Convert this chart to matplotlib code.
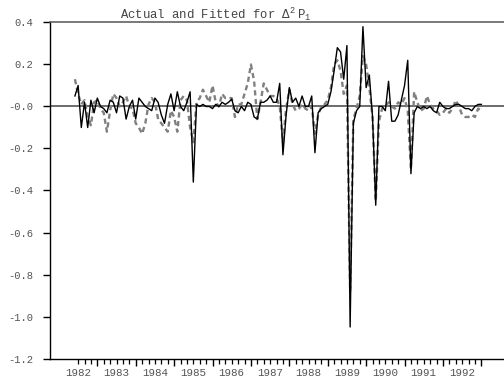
import numpy as np
import pandas as pd
import matplotlib
matplotlib.use("Agg")
import matplotlib.pyplot as plt
import matplotlib.transforms as mtransforms

# ---- data (monthly, Jun 1982 .. Jan 1993) ----
start_year = 1982
start_month = 6
actual = [
    0.05, 0.10, -0.10, 0.02, -0.10, 0.03, -0.03, 0.04, 0.00, -0.01,
    -0.03, 0.03, 0.02, -0.03, 0.05, 0.04, -0.06, 0.00, 0.03, -0.06,
    0.04, 0.02, 0.00, -0.01, -0.02, 0.04, 0.02, -0.04, -0.08, 0.01,
    0.06, -0.02, 0.07, 0.00, -0.02, 0.02, 0.07, -0.36, 0.01, 0.00,
    0.01, 0.00, 0.00, -0.01, 0.01, 0.00, 0.02, 0.01, 0.02, 0.035,
    -0.02, -0.03, 0.00, -0.02, 0.02, 0.01, -0.05, -0.06, 0.02, 0.02,
    0.03, 0.05, 0.02, 0.02, 0.11, -0.23, -0.04, 0.09, 0.02, 0.04,
    0.00, 0.05, 0.00, 0.00, 0.05, -0.22, -0.03, -0.01, 0.00, 0.01,
    0.07, 0.17, 0.28, 0.26, 0.13, 0.29, -1.05, -0.08, -0.02, 0.00,
    0.38, 0.09, 0.15, -0.05, -0.47, 0.00, 0.00, -0.02, 0.12, -0.07,
    -0.07, -0.04, 0.03, 0.10, 0.22, -0.32, -0.03, 0.00, -0.01, 0.00,
    -0.01, 0.00, -0.02, -0.03, 0.02, 0.00, -0.01, -0.01, 0.00, 0.01,
    0.01, 0.00, -0.01, -0.01, -0.02, 0.00, 0.01, 0.01,
]
fitted = [
    0.13, 0.06, 0.01, 0.03, -0.05, -0.09, 0.02, 0.03, -0.01, -0.03,
    -0.12, -0.02, 0.06, 0.04, 0.00, 0.02, 0.05, 0.00, -0.01, -0.08,
    -0.10, -0.13, -0.08, 0.01, 0.04, 0.02, -0.06, -0.08, -0.10, -0.12,
    -0.02, -0.05, -0.12, 0.03, 0.05, 0.03, -0.10, -0.17, 0.02, 0.04,
    0.08, 0.05, 0.02, 0.10, 0.02, 0.00, 0.06, 0.04, 0.04, 0.04,
    -0.05, 0.01, 0.01, 0.06, 0.11, 0.20, 0.12, -0.06, 0.02, 0.11,
    0.08, 0.05, 0.05, 0.04, 0.00, -0.17, -0.01, 0.08, 0.01, -0.02,
    -0.01, 0.01, -0.01, -0.02, 0.00, -0.13, -0.04, 0.00, 0.01, 0.03,
    0.09, 0.20, 0.22, 0.17, 0.06, 0.10, -0.88, -0.06, -0.01, 0.05,
    0.24, 0.20, 0.09, -0.05, -0.45, -0.07, -0.01, 0.00, 0.02, 0.00,
    -0.01, 0.02, 0.01, 0.04, -0.02, -0.30, 0.07, 0.02, -0.02, -0.01,
    0.05, 0.01, -0.01, -0.02, -0.04, -0.03, -0.01, -0.03, -0.01, 0.03,
    0.00, -0.04, -0.05, -0.05, -0.04, -0.05, -0.01, -0.02,
]
years = list(range(1982, 1993))
yticks = [0.4, 0.2, 0.0, -0.2, -0.4, -0.6, -0.8, -1.0, -1.2]
ytick_labels = ["0.4", "0.2", "-0.0", "-0.2", "-0.4", "-0.6", "-0.8", "-1.0", "-1.2"]

n = len(actual)
dates = pd.date_range(f"{start_year}-{start_month:02d}-01", periods=n, freq="MS")
t = dates.year + (dates.month - 1) / 12.0

plt.rcParams["mathtext.fontset"] = "custom"
plt.rcParams["mathtext.rm"] = "Liberation Mono"
plt.rcParams["mathtext.it"] = "Liberation Mono"
MONO = "Liberation Mono"
TXT = "#555555"

fig = plt.figure(figsize=(5.04, 3.81), dpi=100)
ax = fig.add_axes([0.0992, 0.059, 0.9008, 0.882])

ax.axhline(0, color="#444444", lw=1.1, zorder=1)
ax.plot(t, fitted, color="#808080", lw=1.7, ls=(0, (2.2, 1.5)), zorder=2)
ax.plot(t, actual, color="black", lw=1.0, zorder=3)

ax.set_xlim(1981.768, 1993.59)
ax.set_ylim(-1.2, 0.4)

ax.spines["right"].set_visible(False)
ax.spines["top"].set_color("#555555")
ax.spines["top"].set_linewidth(1.1)
ax.spines["left"].set_linewidth(1.0)
ax.spines["bottom"].set_linewidth(1.0)

ax.set_yticks(yticks)
ax.set_yticklabels(ytick_labels, fontfamily=MONO, fontsize=7.6, color=TXT)
ax.tick_params(axis="y", direction="out", length=5, width=1.0, pad=7)

major = [y + 1 for y in years]
minor = [y + k / 6 for y in years for k in range(1, 6) if y + k / 6 > 1982.4]
ax.set_xticks(major)
ax.set_xticklabels([])
ax.set_xticks(minor, minor=True)
ax.tick_params(axis="x", which="major", direction="out", length=5, width=1.0)
ax.tick_params(axis="x", which="minor", direction="out", length=3.5, width=0.9)

trans = mtransforms.blended_transform_factory(ax.transData, ax.transAxes)
for y in years:
    ax.text(y + 0.5, -0.028, str(y), transform=trans, ha="center", va="top",
            fontfamily=MONO, fontsize=7.8, color=TXT)

fig.text(0.238, 0.963, r"Actual and Fitted for $\Delta^{2}\ \mathrm{P}_{1}$",
         ha="left", va="center", fontfamily=MONO, fontsize=8.8, color="#444444")

fig.savefig("out.png", dpi=100)
